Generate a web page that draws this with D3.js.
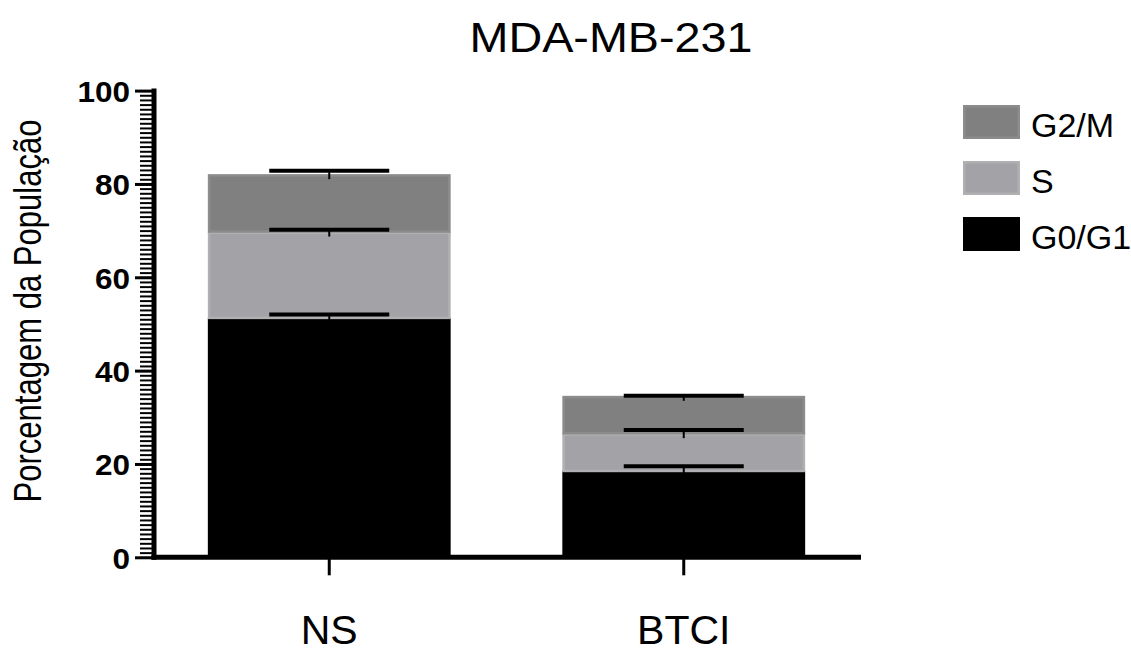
<!DOCTYPE html>
<html>
<head>
<meta charset="utf-8">
<script src="https://cdn.jsdelivr.net/npm/d3@7"></script>
<style>
  html, body { margin: 0; padding: 0; background: #fff; }
  svg { display: block; font-family: "Liberation Sans", Arial, sans-serif; }
</style>
</head>
<body>
<svg id="chart" width="1131" height="662"></svg>
<script>
// Cell-cycle phase distribution (% of population), mean and SEM
const groups = ["NS", "BTCI"];
const phases = ["G0/G1", "S", "G2/M"];
const g0g1 = [51.3, 18.5];
const sPhase = [18.5, 8.1];
const g2m = [12.3, 8.0];
const g0g1Err = [0.7, 1.0];
const sErr = [0.4, 0.7];
const g2mErr = [0.7, 0.0];
const yTicks = [0, 20, 40, 60, 80, 100];
const title = "MDA-MB-231";
const yLabel = "Porcentagem da População";

const phaseColor = { "G0/G1": "#000000", "S": "#a3a2a7", "G2/M": "#808080" };
const phaseEdge = { "G0/G1": "#000000", "S": "#b0b0b2", "G2/M": "#8c8c8c" };

const rows = groups.map((g, i) => ({
  group: g,
  "G0/G1": g0g1[i], "S": sPhase[i], "G2/M": g2m[i],
  err: { "G0/G1": g0g1Err[i], "S": sErr[i], "G2/M": g2mErr[i] }
}));

const stacked = d3.stack().keys(phases)(rows);

const svg = d3.select("#chart");

const x = d3.scaleBand().domain(groups).range([152, 861]).paddingInner(0.315).paddingOuter(0.1575);
const y = d3.scaleLinear().domain([0, 100]).range([557.3, 90.6]);

// stacked bars
const layers = svg.append("g").selectAll("g").data(stacked).join("g")
  .attr("fill", d => phaseColor[d.key])
  .attr("stroke", d => phaseEdge[d.key])
  .attr("stroke-width", 2.5);

layers.selectAll("rect").data(d => d.map(v => ({ v, key: d.key }))).join("rect")
  .attr("x", d => x(d.v.data.group) + 1.25)
  .attr("width", x.bandwidth() - 2.5)
  .attr("y", d => y(d.v[1]) + 1.25)
  .attr("height", d => y(d.v[0]) - y(d.v[1]) - 1.25);

// error bars (upper only)
const capHalf = 60;
const errs = [];
stacked.forEach(layer => layer.forEach(v => {
  errs.push({ group: v.data.group, top: v[1], err: v.data.err[layer.key] });
}));
const eg = svg.append("g").attr("stroke", "#000");
eg.selectAll("line.stem").data(errs).join("line")
  .attr("class", "stem")
  .attr("x1", d => x(d.group) + x.bandwidth() / 2)
  .attr("x2", d => x(d.group) + x.bandwidth() / 2)
  .attr("y1", d => y(d.top) + 5)
  .attr("y2", d => y(d.top + d.err))
  .attr("stroke-width", 2);
eg.selectAll("line.cap").data(errs).join("line")
  .attr("class", "cap")
  .attr("x1", d => x(d.group) + x.bandwidth() / 2 - capHalf)
  .attr("x2", d => x(d.group) + x.bandwidth() / 2 + capHalf)
  .attr("y1", d => y(d.top + d.err))
  .attr("y2", d => y(d.top + d.err))
  .attr("stroke-width", 4);

// y axis: minor ticks every unit, major every 20
const yAxisX = 154;
const yg = svg.append("g");
yg.append("g").attr("transform", `translate(${yAxisX - 2},0)`)
  .call(d3.axisLeft(y).tickValues(d3.range(0, 101, 1)).tickSize(12).tickFormat(""))
  .call(g => g.select(".domain").remove())
  .call(g => g.selectAll("line").attr("stroke", "#000").attr("stroke-width", 2));
yg.append("g").attr("transform", `translate(${yAxisX - 2},0)`)
  .call(d3.axisLeft(y).tickValues(yTicks).tickSize(17).tickPadding(5).tickFormat(d3.format("d")))
  .call(g => g.select(".domain").remove())
  .call(g => g.selectAll("line").attr("stroke", "#000").attr("stroke-width", 3))
  .call(g => g.selectAll("text")
    .attr("fill", "#000")
    .attr("font-family", "'Liberation Sans', Arial, sans-serif")
    .attr("font-weight", "bold")
    .attr("font-size", 30)
    .attr("dy", "0.36em")
    .attr("textLength", d => String(d).length * 17.5)
    .attr("lengthAdjust", "spacingAndGlyphs"));
svg.append("line")
  .attr("x1", yAxisX).attr("x2", yAxisX)
  .attr("y1", y(100) - 2).attr("y2", y(0) + 2.5)
  .attr("stroke", "#000").attr("stroke-width", 5);

// x axis
svg.append("g").attr("transform", `translate(0,${y(0)})`)
  .call(d3.axisBottom(x).tickSize(18).tickPadding(40))
  .call(g => g.select(".domain").remove())
  .call(g => g.selectAll("line").attr("stroke", "#000").attr("stroke-width", 3))
  .call(g => g.selectAll("text")
    .attr("fill", "#000")
    .attr("font-family", "'Liberation Sans', Arial, sans-serif")
    .attr("font-size", 41)
    .attr("dy", "0.71em"));
svg.append("line")
  .attr("x1", yAxisX - 2.5).attr("x2", 861)
  .attr("y1", y(0)).attr("y2", y(0))
  .attr("stroke", "#000").attr("stroke-width", 5);

// title
svg.append("text")
  .attr("x", 611).attr("y", 52)
  .attr("text-anchor", "middle")
  .attr("font-size", 43)
  .attr("textLength", 283).attr("lengthAdjust", "spacingAndGlyphs")
  .text(title);

// y label
svg.append("text")
  .attr("transform", "translate(41,311) rotate(-90)")
  .attr("text-anchor", "middle")
  .attr("font-size", 38)
  .attr("textLength", 383).attr("lengthAdjust", "spacingAndGlyphs")
  .text(yLabel);

// legend
const legendOrder = ["G2/M", "S", "G0/G1"];
const lg = svg.append("g").attr("transform", "translate(963,105)");
const li = lg.selectAll("g").data(legendOrder).join("g")
  .attr("transform", (d, i) => `translate(0,${i * 56})`);
li.append("rect")
  .attr("x", 1.25).attr("y", 1.25)
  .attr("width", 54.5).attr("height", 31.5)
  .attr("fill", d => phaseColor[d])
  .attr("stroke", d => phaseEdge[d])
  .attr("stroke-width", 2.5);
li.append("text")
  .attr("x", 68).attr("y", 32)
  .attr("font-size", 34)
  .text(d => d);
</script>
</body>
</html>
